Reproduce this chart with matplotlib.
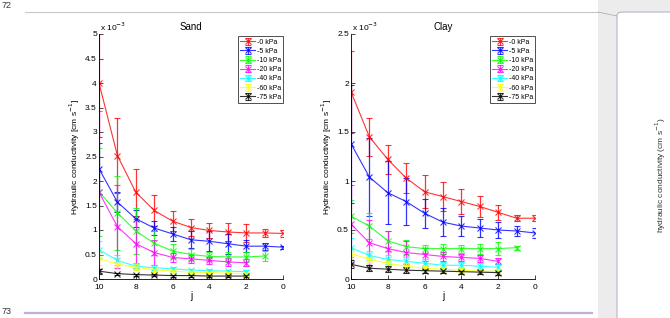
import matplotlib
matplotlib.use('Agg')
import matplotlib.pyplot as plt
from matplotlib.lines import Line2D
from matplotlib.patches import FancyBboxPatch, Rectangle

plt.rcParams['font.family'] = ['Liberation Sans', 'DejaVu Sans']

labels = ['-0 kPa', '-5 kPa', '-10 kPa', '-20 kPa', '-40 kPa', '-60 kPa', '-75 kPa']
colors = ['#ff0000', '#0000ff', '#00ff00', '#ff00ff', '#00ffff', '#ffff00', '#000000']

j_long = [10, 9, 8, 7, 6, 5, 4, 3, 2, 1, 0]   # -0 and -5 kPa
j_mid = [10, 9, 8, 7, 6, 5, 4, 3, 2, 1]       # -10 kPa
j_short = [10, 9, 8, 7, 6, 5, 4, 3, 2]        # -20 .. -75 kPa

# hydraulic conductivity, x 10^-3 cm/s
sand_0 = [4.0, 2.52, 1.77, 1.40, 1.18, 1.05, 0.99, 0.96, 0.94, 0.94, 0.93]
sand_5 = [2.25, 1.57, 1.23, 1.04, 0.92, 0.80, 0.77, 0.72, 0.67, 0.67, 0.65]
sand_10 = [1.78, 1.35, 0.98, 0.73, 0.57, 0.50, 0.46, 0.45, 0.45, 0.47]
sand_20 = [1.77, 1.07, 0.72, 0.54, 0.44, 0.41, 0.38, 0.35, 0.33]
sand_40 = [0.60, 0.38, 0.26, 0.23, 0.21, 0.18, 0.17, 0.16, 0.15]
sand_60 = [0.42, 0.30, 0.24, 0.19, 0.16, 0.14, 0.13, 0.12, 0.11]
sand_75 = [0.16, 0.11, 0.09, 0.08, 0.07, 0.07, 0.06, 0.06, 0.06]

sand_0_err = [1.1, 0.77, 0.48, 0.32, 0.2, 0.17, 0.15, 0.18, 0.18, 0.08, 0.07]
sand_5_err = [0.52, 0.2, 0.17, 0.15, 0.15, 0.17, 0.2, 0.2, 0.12, 0.07, 0.03]
sand_10_err = [0.9, 0.75, 0.47, 0.25, 0.15, 0.12, 0.1, 0.1, 0.1, 0.1]
sand_20_err = [1.65, 0.85, 0.5, 0.25, 0.1, 0.08, 0.07, 0.08, 0.07]
sand_40_err = [0.18, 0.1, 0.07, 0.05, 0.04, 0.03, 0.03, 0.03, 0.03]
sand_60_err = [0.14, 0.1, 0.06, 0.04, 0.03, 0.03, 0.02, 0.02, 0.02]
sand_75_err = [0.05, 0.02, 0.02, 0.02, 0.02, 0.02, 0.02, 0.02, 0.02]

clay_0 = [1.91, 1.45, 1.22, 1.03, 0.89, 0.84, 0.79, 0.74, 0.68, 0.62, 0.62]
clay_5 = [1.38, 1.04, 0.88, 0.79, 0.67, 0.58, 0.54, 0.52, 0.50, 0.49, 0.47]
clay_10 = [0.64, 0.54, 0.39, 0.33, 0.31, 0.31, 0.31, 0.31, 0.31, 0.32]
clay_20 = [0.56, 0.37, 0.31, 0.27, 0.25, 0.23, 0.22, 0.21, 0.18]
clay_40 = [0.32, 0.24, 0.20, 0.18, 0.16, 0.14, 0.14, 0.13, 0.12]
clay_60 = [0.26, 0.20, 0.16, 0.13, 0.11, 0.10, 0.09, 0.08, 0.08]
clay_75 = [0.15, 0.11, 0.10, 0.09, 0.085, 0.08, 0.075, 0.07, 0.065]

clay_0_err = [0.42, 0.19, 0.15, 0.15, 0.17, 0.15, 0.13, 0.11, 0.08, 0.03, 0.03]
clay_5_err = [0.6, 0.4, 0.32, 0.24, 0.15, 0.14, 0.1, 0.09, 0.08, 0.05, 0.05]
clay_10_err = [0.17, 0.13, 0.1, 0.07, 0.04, 0.05, 0.04, 0.05, 0.07, 0.02]
clay_20_err = [0.4, 0.23, 0.18, 0.12, 0.07, 0.05, 0.04, 0.04, 0.03]
clay_40_err = [0.1, 0.05, 0.05, 0.04, 0.04, 0.03, 0.03, 0.03, 0.03]
clay_60_err = [0.06, 0.04, 0.03, 0.03, 0.02, 0.02, 0.02, 0.02, 0.02]
clay_75_err = [0.04, 0.03, 0.03, 0.03, 0.02, 0.02, 0.02, 0.02, 0.02]

xs = [j_long, j_long, j_mid, j_short, j_short, j_short, j_short]
sand = [sand_0, sand_5, sand_10, sand_20, sand_40, sand_60, sand_75]
sand_err = [sand_0_err, sand_5_err, sand_10_err, sand_20_err, sand_40_err, sand_60_err, sand_75_err]
clay = [clay_0, clay_5, clay_10, clay_20, clay_40, clay_60, clay_75]
clay_err = [clay_0_err, clay_5_err, clay_10_err, clay_20_err, clay_40_err, clay_60_err, clay_75_err]

fig = plt.figure(figsize=(6.7, 3.18), dpi=100)

# page decorations of the document screenshot
fig.patches.append(Rectangle((598/670, 0), 72/670, 1, transform=fig.transFigure,
                             facecolor='#ececec', edgecolor='none', zorder=0))
fig.patches.append(FancyBboxPatch((617/670, -0.05), 0.2, 1 - 12/318 + 0.05,
                                  boxstyle='round,pad=0,rounding_size=0.01',
                                  transform=fig.transFigure, facecolor='white',
                                  edgecolor='#b8b4c8', lw=0.8, zorder=1))
fig.add_artist(Line2D([25/670, 598/670], [1 - 12/318] * 2, color='#c8c8c8', lw=0.8))
fig.add_artist(Line2D([598/670, 617/670], [1 - 12/318, 1 - 16/318], color='#b0b0b0', lw=0.6))
fig.add_artist(Line2D([25/670, 592/670], [1 - 313/318] * 2, color='#c0b0d8', lw=1.6))
fig.text(2/670, 1 - 6/318, '72', fontsize=6.5, va='center', color='#333333')
fig.text(2/670, 1 - 312/318, '73', fontsize=6.5, va='center', color='#333333')
fig.text(661/670, 1 - 175/318, 'hydraulic conductivity (cm s$^{-1}$)', fontsize=6,
         rotation=90, ha='center', va='center', color='#333333')

panels = [('Sand', sand, sand_err, 5.0, 99), ('Clay', clay, clay_err, 2.5, 351)]
for title, vals, errs, ymax, left in panels:
    ax = fig.add_axes([left/670, 1 - 279/318, 184/670, 245/318])
    for x, v, e, c, lab in zip(xs, vals, errs, colors, labels):
        ax.errorbar(x, v, yerr=e, color=c, marker='x', ms=4, mew=0.8, lw=0.8,
                    elinewidth=0.9, capsize=2.2, capthick=0.9, alpha=0.8, label=lab)
    ax.set_xlim(10, 0)
    ax.set_ylim(0, ymax)
    ax.set_xticks([10, 8, 6, 4, 2, 0])
    ax.set_yticks([i * 0.5 for i in range(int(ymax / 0.5) + 1)])
    ax.set_yticklabels(['%g' % (i * 0.5) for i in range(int(ymax / 0.5) + 1)])
    for s in ['top', 'right']:
        ax.spines[s].set_visible(False)
    for s in ['left', 'bottom']:
        ax.spines[s].set_linewidth(0.6)
    ax.tick_params(direction='in', length=3, width=0.5, labelsize=6)
    ax.tick_params(axis='x', pad=3.5)
    ax.tick_params(axis='y', pad=1.5)
    ax.set_title(title, fontsize=7, pad=3)
    ax.set_xlabel('j', fontsize=7, labelpad=0)
    ax.set_ylabel('Hydraulic conductivity [cm s$^{-1}$]', fontsize=6, labelpad=2)
    ax.text(0.005, 1.005, r'x 10$^{-3}$', transform=ax.transAxes, fontsize=6,
            ha='left', va='bottom')
    leg = ax.legend(loc='upper right', bbox_to_anchor=(1.0, 0.99), fontsize=5,
                    frameon=True, fancybox=False, handlelength=2.2,
                    handletextpad=0.2, labelspacing=0.32, borderpad=0.3,
                    borderaxespad=0)
    leg.get_frame().set_edgecolor('black')
    leg.get_frame().set_linewidth(0.6)

fig.savefig('out.png', dpi=100)
